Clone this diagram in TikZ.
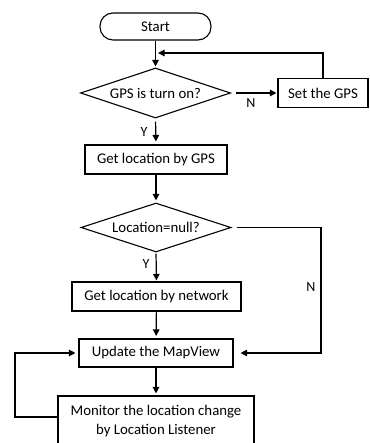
\documentclass[tikz,border=0pt]{standalone}
\usepackage{fontspec}
\setmainfont{Carlito}
\usetikzlibrary{shapes.geometric,arrows.meta}

\tikzset{
  txt/.style={font=\fontsize{14.8}{18.3}\selectfont, text=black},
  box/.style={draw, line width=1.1pt, rectangle, inner sep=0pt, txt, align=center},
  term/.style={box, rounded corners=13pt},
  dec/.style={draw, line width=1.1pt, diamond, aspect=3, inner sep=0pt, txt},
  flow/.style={line width=1.2pt, -{Triangle[length=6.5pt,width=6.5pt]}},
  lbl/.style={font=\fontsize{14}{16}\selectfont, text=black, inner sep=0pt}
}

\begin{document}
\begin{tikzpicture}[x=1pt,y=-1pt]
\useasboundingbox (0,0) rectangle (369,443);

% nodes of the flow
\node[term, minimum width=111pt, minimum height=27pt] (start) at (155.5,26.5) {Start};
\node[dec, minimum width=150pt, minimum height=50pt] (d1) at (155.5,93) {GPS is turn on?};
\node[box, minimum width=90pt, minimum height=29pt] (set) at (323,93) {Set the GPS};
\node[box, minimum width=142pt, minimum height=29pt] (gps) at (156,159.5) {Get location by GPS};
\node[dec, minimum width=150pt, minimum height=49pt] (d2) at (156,227.5) {Location=null?};
\node[box, minimum width=169pt, minimum height=29pt] (net) at (156.5,296.5) {Get location by network};
\node[box, minimum width=154pt, minimum height=28pt] (upd) at (156,353) {Update the MapView};
\node[box, minimum width=196pt, minimum height=50pt] (mon) at (156,421) {Monitor the location change\\by Location Listener};

% branch labels
\node[lbl] (n1) at (251,103) {N};
\node[lbl] (y1) at (144,132.5) {Y};
\node[lbl] (y2) at (146,264) {Y};
\node[lbl] (n2) at (311,287) {N};

% helper points
\coordinate (fb) at (158,53);
\coordinate (c2) at (321,227.5);
\coordinate (c4) at (15,417);

% connectors
\draw[flow, shorten >=1pt] (start) -- (d1);
\draw[flow] (set.north) |- (fb);
\draw[flow, shorten <=5pt, shorten >=1pt] (d1.east) -- (set.west);
\draw[flow, shorten <=3pt, shorten >=3pt] (d1.south) -- (gps.north);
\draw[flow, shorten >=2pt] (gps) -- (d2);
\draw[flow, shorten <=1pt, shorten >=1pt] (d2.south) -- (net.north);
\draw[flow, shorten <=5pt, shorten >=7pt] (d2.east) -- (c2) |- (upd.east);
\draw[flow, shorten >=2.5pt] (net) -- (upd);
\draw[flow, shorten >=2pt] (upd) -- (mon);
\draw[flow, shorten >=3pt] (mon.west |- c4) -- (c4) |- (upd.west);
\end{tikzpicture}
\end{document}
